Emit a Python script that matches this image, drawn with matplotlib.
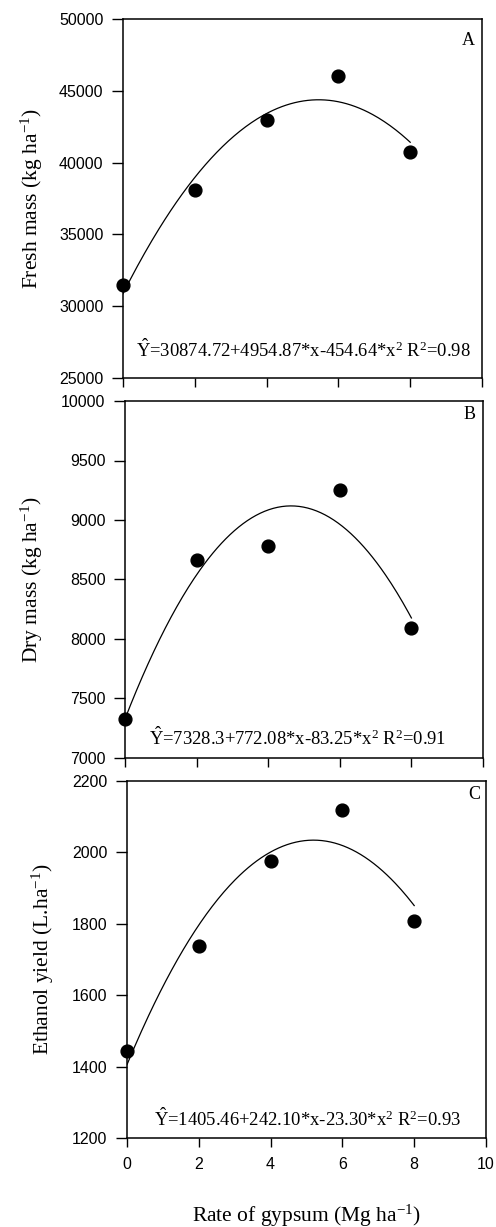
import numpy as np
import matplotlib
matplotlib.use("Agg")
import matplotlib.pyplot as plt

plt.rcParams['font.family'] = ['Liberation Sans', 'DejaVu Sans']
plt.rcParams['mathtext.default'] = 'regular'

# Data
gypsum = [0, 2, 4, 6, 8]
fresh_mass = [31450, 38100, 42950, 46000, 40750]
dry_mass = [7325, 8665, 8785, 9255, 8095]
ethanol = [1443, 1737, 1975, 2120, 1807]

fresh_coef = [30874.72, 4954.87, -454.64]
dry_coef = [7328.3, 772.08, -83.25]
eth_coef = [1405.46, 242.10, -23.30]

fresh_eq = r'$\hat{Y}$=30874.72+4954.87*x-454.64*x$^2$ R$^2$=0.98'
dry_eq = r'$\hat{Y}$=7328.3+772.08*x-83.25*x$^2$ R$^2$=0.91'
eth_eq = r'$\hat{Y}$=1405.46+242.10*x-23.30*x$^2$ R$^2$=0.93'

ylabels = ['Fresh mass (kg ha$^{-1}$)', 'Dry mass (kg ha$^{-1}$)', 'Ethanol yield (L.ha$^{-1}$)']
letters = ['A', 'B', 'C']
xticks = [0, 2, 4, 6, 8, 10]
yticks_list = [[25000, 30000, 35000, 40000, 45000, 50000],
               [7000, 7500, 8000, 8500, 9000, 9500, 10000],
               [1200, 1400, 1600, 1800, 2000, 2200]]
xlabel = 'Rate of gypsum (Mg ha$^{-1}$)'

W, H = 496, 1227
fig = plt.figure(figsize=(W / 100, H / 100), dpi=100)

boxes = [(123, 19, 482, 378), (125, 401, 483, 758), (127, 781, 486, 1138)]
ys = [fresh_mass, dry_mass, ethanol]
coefs = [fresh_coef, dry_coef, eth_coef]
eqs = [fresh_eq, dry_eq, eth_eq]
eq_pos = [(0.037, 0.048), (0.068, 0.025), (0.075, 0.022)]
letter_pos = [(0.98, 0.965), (0.98, 0.985), (0.985, 0.985)]
ylabel_right_px = [45, 45, 56]

serif = ['Liberation Serif', 'DejaVu Serif']

for i in range(3):
    l, t, r, b = boxes[i]
    ax = fig.add_axes([l / W, 1 - b / H, (r - l) / W, (b - t) / H])
    yt = yticks_list[i]
    ax.set_xlim(0, 10)
    ax.set_ylim(yt[0], yt[-1])
    xx = np.linspace(0, 8, 200)
    c = coefs[i]
    ax.plot(xx, c[0] + c[1] * xx + c[2] * xx ** 2, color='black', lw=0.9, zorder=2)
    ax.scatter(gypsum, ys[i], s=85, color='black', zorder=3, clip_on=False)
    ax.set_xticks(xticks)
    ax.set_yticks(yt)
    ax.tick_params(direction='out', width=1.0, labelsize=11.5)
    ax.tick_params(axis='y', length=8, pad=6)
    ax.tick_params(axis='x', length=6.5, pad=7)
    if i < 2:
        ax.tick_params(axis='x', labelbottom=False)
    for s in ax.spines.values():
        s.set_linewidth(1.1)
    ax.set_ylabel(ylabels[i], family=serif, fontsize=15.5)
    ax.yaxis.set_label_coords((ylabel_right_px[i] - l) / (r - l), 0.5)
    lx, ly = letter_pos[i]
    ax.text(lx, ly, letters[i], transform=ax.transAxes, ha='right', va='top',
            family=serif, fontsize=13)
    ex, ey = eq_pos[i]
    ax.text(ex, ey, eqs[i], transform=ax.transAxes, ha='left', va='bottom',
            family=serif, fontsize=13.4)
    if i == 2:
        ax.set_xlabel(xlabel, family=serif, fontsize=15.5, labelpad=22)

fig.savefig('out.png', dpi=100)
